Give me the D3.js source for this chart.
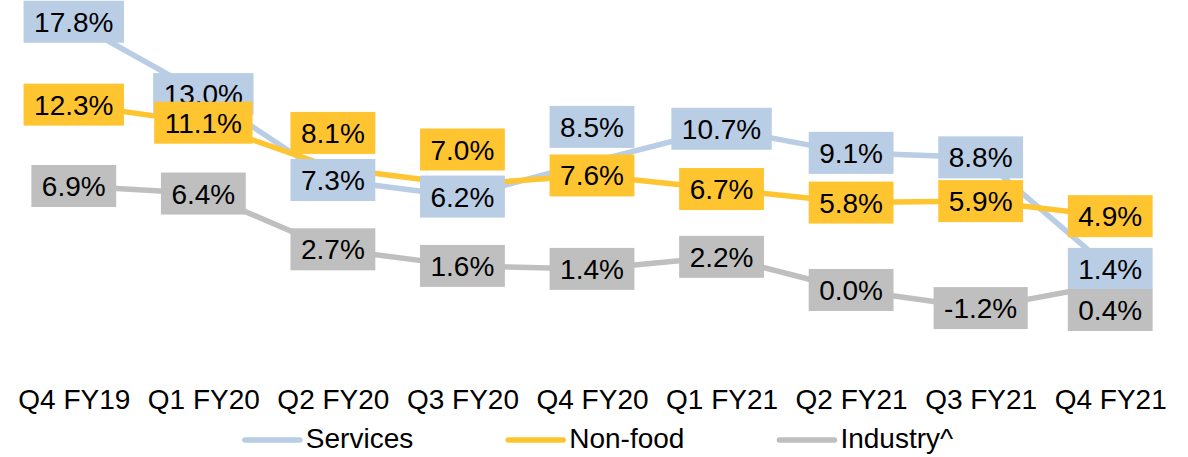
<!DOCTYPE html>
<html>
<head>
<meta charset="utf-8">
<script src="https://cdn.jsdelivr.net/npm/d3@7"></script>
<style>
  html, body { margin: 0; padding: 0; background: #ffffff; }
  svg { display: block; font-family: "Liberation Sans", Arial, sans-serif; }
</style>
</head>
<body>
<svg id="chart" width="1188" height="457"></svg>
<script>
// ---- data ----
const categories = ["Q4 FY19", "Q1 FY20", "Q2 FY20", "Q3 FY20", "Q4 FY20", "Q1 FY21", "Q2 FY21", "Q3 FY21", "Q4 FY21"];
const seriesNames = ["Services", "Non-food", "Industry^"];
const services = [17.8, 13.0, 7.3, 6.2, 8.5, 10.7, 9.1, 8.8, 1.4];
const nonFood  = [12.3, 11.1, 8.1, 7.0, 7.6, 6.7, 5.8, 5.9, 4.9];
const industry = [6.9, 6.4, 2.7, 1.6, 1.4, 2.2, 0.0, -1.2, 0.4];
// data label placement: c = centred on point, a = above, b = below
const servicesLabelPos = ["c", "c", "c", "c", "a", "c", "c", "c", "c"];
const nonFoodLabelPos  = ["c", "c", "a", "a", "c", "c", "c", "c", "c"];
const industryLabelPos = ["c", "c", "c", "c", "c", "c", "c", "c", "b"];

// ---- styling ----
const colors = ["#B9CDE5", "#FFC531", "#BFBFBF"];
const svg = d3.select("#chart");

const series = [
  { name: seriesNames[0], values: services, pos: servicesLabelPos, color: colors[0] },
  { name: seriesNames[1], values: nonFood,  pos: nonFoodLabelPos,  color: colors[1] },
  { name: seriesNames[2], values: industry, pos: industryLabelPos, color: colors[2] }
];

const x = d3.scalePoint().domain(categories).range([9, 1175]).padding(0.5);
const y = d3.scaleLinear().domain([-5, 20]).range([365.35, -11.4]);

const line = d3.line()
  .x((d, i) => x(categories[i]))
  .y(d => y(d));

// lines
svg.append("g").selectAll("path")
  .data(series)
  .join("path")
  .attr("d", s => line(s.values))
  .attr("fill", "none")
  .attr("stroke", s => s.color)
  .attr("stroke-width", 5.5)
  .attr("stroke-linejoin", "round")
  .attr("stroke-linecap", "butt");

// data labels
const labelFont = 28;
const offsets = { c: 0, a: -35, b: 26 };
const lg = svg.append("g");
series.forEach(s => {
  s.values.forEach((v, i) => {
    const cx = x(categories[i]);
    const cy = y(v) + offsets[s.pos[i]];
    const g = lg.append("g");
    const rect = g.append("rect").attr("fill", s.color);
    const t = g.append("text")
      .attr("x", cx)
      .attr("y", cy + labelFont * 0.358)
      .attr("text-anchor", "middle")
      .attr("font-size", labelFont)
      .attr("fill", "#000")
      .text(v.toFixed(1) + "%");
    const w = t.node().getComputedTextLength() + 21;
    rect.attr("x", cx - w / 2).attr("y", cy - 21).attr("width", w).attr("height", 42);
  });
});

// x axis (no line, no ticks)
const xAxis = d3.axisBottom(x).tickSize(0).tickPadding(0);
const ax = svg.append("g").call(xAxis);
ax.select(".domain").remove();
ax.selectAll("text")
  .attr("y", 409)
  .attr("dy", null)
  .attr("font-size", 28)
  .attr("font-family", "Liberation Sans, Arial, sans-serif")
  .attr("fill", "#000");

// legend
const legFont = 28;
const leg = svg.append("g");
const items = series.map(s => {
  const g = leg.append("g");
  g.append("line")
    .attr("x1", 0).attr("x2", 55)
    .attr("y1", 440).attr("y2", 440)
    .attr("stroke", s.color).attr("stroke-width", 5.5).attr("stroke-linecap", "round");
  const t = g.append("text")
    .attr("x", 61).attr("y", 448)
    .attr("font-size", legFont).attr("fill", "#000")
    .text(s.name);
  return { g, w: 61 + t.node().getComputedTextLength() };
});
const gap = 95;
const total = d3.sum(items, d => d.w) + gap * (items.length - 1);
let cur = 599 - total / 2;
items.forEach(it => { it.g.attr("transform", `translate(${cur},0)`); cur += it.w + gap; });
</script>
</body>
</html>
